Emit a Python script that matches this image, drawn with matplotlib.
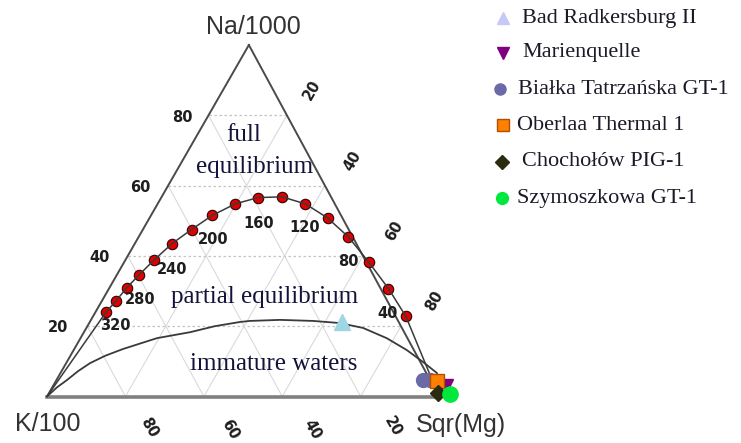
import matplotlib.pyplot as plt
import numpy as np

# ternary values in percent (K = 100 - Na - Mg); apex of the drawn triangle is slightly off-centre
APEX = 0.515

# full equilibrium curve, dots
eq_na = [24.0, 27.2, 30.9, 34.7, 38.8, 43.5, 47.5, 51.5, 54.8, 56.6, 56.8, 54.8, 50.8, 45.4, 38.3, 30.7, 22.8]
eq_mg = [2.7, 3.6, 4.4, 5.7, 7.3, 9.5, 12.4, 15.6, 19.8, 24.7, 30.7, 37.7, 45.4, 53.5, 62.3, 71.3, 79.8]

# partial equilibrium / immature waters boundary
imm_na = [0, 2.6, 4.7, 7.2, 9.5, 11.6, 13.5, 16.6, 18.3, 20.0, 21.2, 21.5, 21.8, 21.5, 20.9, 19.5, 16.6, 13.2, 9.8, 6.7, 3.5, 0]
imm_mg = [0, 1.2, 2.7, 4.2, 6.1, 8.9, 12.4, 19.5, 27.1, 32.5, 38.3, 40.7, 48.2, 56.8, 63.9, 70.6, 78.1, 85.0, 90.9, 96.0, 98.3, 100]

temp_labels = ["40", "80", "120", "160", "200", "240", "280", "320"]

samples = ["Bad Radkersburg II", "Marienquelle", "Białka Tatrzańska GT-1",
           "Oberlaa Thermal 1", "Chochołów PIG-1", "Szymoszkowa GT-1"]
sample_na = [[21.2], [3.3], [4.7, 4.7], [4.4], [1.0], [0.7]]
sample_mg = [[64.4], [100.3], [93.5, 95.3], [97.2], [99.2], [102.4]]

grid_levels = [20, 40, 60, 80]


def tern(na, mg):
    na = np.asarray(na, dtype=float) / 100
    mg = np.asarray(mg, dtype=float) / 100
    return mg + APEX * na, na


def px(x, y):
    # pixel position in the 741x443 image -> data coords
    return (x - 47) / 392, (396.5 - y) / 351.5


fig = plt.figure(figsize=(7.41, 4.43), dpi=100)
ax = fig.add_axes([0, 0, 1, 1])
ax.set_xlim(-47 / 392, (741 - 47) / 392)
ax.set_ylim((396.5 - 443) / 351.5, 396.5 / 351.5)
ax.axis("off")

# grid
for c in grid_levels:
    x, y = tern([c, c], [0, 100 - c])
    ax.plot(x, y, color="#c4c4c4", lw=0.9, ls=(0, (2, 2)), zorder=1)
    x, y = tern([100 - c, 0], [0, 100 - c])
    ax.plot(x, y, color="#dadada", lw=0.8, zorder=1)
    x, y = tern([0, 100 - c], [c, c])
    ax.plot(x, y, color="#dadada", lw=0.8, zorder=1)

# triangle
x, y = tern([0, 100, 0], [0, 0, 100])
ax.plot(x[:2], y[:2], color="#4a4a4a", lw=1.4, zorder=2)
ax.plot(x[1:], y[1:], color="#4a4a4a", lw=1.4, zorder=2)
ax.plot([x[0], x[2]], [y[0], y[2]], color="#808080", lw=2.6, zorder=2)

# curves
x, y = tern([0] + eq_na + [0], [0] + eq_mg + [100])
ax.plot(x, y, color="#3a3a3a", lw=1.1, zorder=5)
x, y = tern(eq_na, eq_mg)
ax.plot(x, y, "o", ms=7.5, mfc="#e00000", mec="#300000", mew=0.8, zorder=4)
x, y = tern(imm_na, imm_mg)
ax.plot(x, y, color="#3a3a3a", lw=1.3, zorder=3)

# temperature labels
tfont = dict(fontsize=10.5, fontweight="bold", color="#1e1e1e", ha="center", va="center")
temp_pos = [(388, 313), (348, 262), (305, 228), (259, 223), (213, 240), (172, 270), (140, 300), (115, 326)]
for t, p in zip(temp_labels, temp_pos):
    ax.text(*px(*p), t, zorder=6, **tfont)

# axis tick labels
for t, p in zip(["80", "60", "40", "20"], [(182, 117), (140, 187), (100, 257), (58, 328)]):
    ax.text(*px(*p), t, **tfont)
for t, p in zip(["20", "40", "60", "80"], [(312, 90), (353, 161), (394, 231), (434, 301)]):
    ax.text(*px(*p), t, rotation=60, **tfont)
for t, p in zip(["80", "60", "40", "20"], [(149, 428), (230, 430), (312, 430), (393, 427)]):
    ax.text(*px(*p), t, rotation=-60, **tfont)

# vertex labels
vfont = dict(fontsize=18, color="#333333", family="Liberation Sans", ha="center", va="center")
ax.text(*px(253, 27), "Na/1000", **vfont)
ax.text(*px(48, 424), "K/100", **vfont)
ax.text(*px(461, 425), "Sqr(Mg)", **vfont)

# region labels
rfont = dict(fontsize=18, color="#12123a", family="Liberation Serif", ha="center", va="center")
ax.text(*px(244, 135), "full", **rfont)
ax.text(*px(255, 167), "equilibrium", **rfont)
ax.text(*px(265, 297), "partial equilibrium", **rfont)
ax.text(*px(274, 364), "immature waters", **rfont)

# samples
chart_style = [
    dict(marker="^", color="#9fd6e6", ms=11),
    dict(marker="v", color="#800080", ms=9),
    dict(marker="o", color="#6a6aa6", ms=10),
    dict(marker="s", color="#ff7f00", ms=10, mec="#b05000"),
    dict(marker="D", color="#2b2b10", ms=8),
    dict(marker="o", color="#00e83c", ms=11),
]
order = [2, 1, 3, 4, 5, 0]
for i in order:
    x, y = tern(sample_na[i], sample_mg[i])
    ax.plot(x, y, ls="none", zorder=7, **chart_style[i])

# legend
leg_colors = ["#c8c8f8", "#800080", "#6a6aa6", "#ff7f00", "#2b2b10", "#00e83c"]
leg_sizes = [8, 8, 8, 8, 7, 8.5]
leg_marker_pos = [(503, 18), (503, 53), (500, 89), (503, 125), (502, 162), (502, 198)]
leg_text_x = [522, 522, 518, 517, 522, 517]
for i, name in enumerate(samples):
    st = dict(chart_style[i])
    st["color"] = leg_colors[i]
    st["ms"] = leg_sizes[i]
    mx, my = px(*leg_marker_pos[i])
    ax.plot([mx], [my], ls="none", clip_on=False, **st)
    ax.text(*px(leg_text_x[i], leg_marker_pos[i][1]), name, fontsize=16, family="Liberation Serif",
            color="#1a1a28", ha="left", va="center")

plt.savefig("out.png", dpi=100, facecolor="white")
